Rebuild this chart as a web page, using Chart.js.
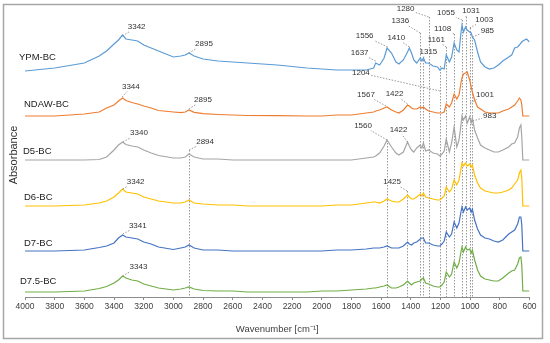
<!DOCTYPE html>
<html>
<head>
<meta charset="utf-8">
<script src="https://cdn.jsdelivr.net/npm/chart.js@4.4.0/dist/chart.umd.min.js"></script>
<style>
  html, body { margin: 0; padding: 0; background: #fff; }
  #wrap { width: 550px; height: 343px; }
</style>
</head>
<body>
<div id="wrap"><canvas id="chart" width="550" height="343"></canvas></div>
<script>
// Волновые числа, общие для всех спектров (cm-1)
const wavenumbers = [
  4000, 3800, 3600, 3500, 3450, 3400, 3370, 3342, 3320, 3280,
  3240, 3200, 3150, 3100, 3000, 2950, 2920, 2895, 2860, 2800,
  2700, 2600, 2500, 2300, 2100, 2000, 1900, 1800, 1700, 1650,
  1637, 1610, 1580, 1560, 1530, 1500, 1480, 1450, 1422, 1410,
  1395, 1380, 1360, 1336, 1325, 1315, 1300, 1280, 1250, 1220,
  1204, 1190, 1175, 1161, 1140, 1125, 1108, 1090, 1075, 1062,
  1055, 1045, 1031, 1020, 1003, 993, 985, 970, 950, 930,
  900, 870, 840, 810, 780, 740, 720, 700, 680, 668,
  658, 652, 645, 620, 600,
]

// Поглощение (усл. ед.) относительно собственной базовой линии спектра
const ypm = [
  0, 3, 8, 15, 20, 27, 31, 36, 32, 31,
  30, 26, 23, 20, 14, 15, 16, 18, 15, 12,
  10, 9, 8, 6, 3, 2, 1, 1, 1, 3,
  8, 6, 13, 23, 18, 9, 7, 11, 19, 23,
  18, 11, 8, 13, 10, 13, 8, 8, 5, 4,
  1, 3, 2, 16, 9, 14, 28, 21, 19, 38,
  46, 39, 44, 41, 39, 38, 34, 31, 19, 9,
  4, 2, 3, 6, 10, 14, 16, 23, 24, 26,
  28, 29, 30, 32, 29,
]
const ndaw = [
  0, 0, 2, 4, 8, 11, 15, 18, 15.5, 13.5,
  12, 10, 8, 5.5, 4, 3.3, 4, 6, 3.7, 2.3,
  1.5, 1, 0.5, 0.3, 0, 0, 1, 1, 3, 4,
  5, 6, 8, 9, 6, 4, 3, 6, 11, 10,
  8, 7, 7, 9, 8, 9, 7, 5, 4, 3,
  3, 3, 4, 12, 9, 13, 22, 17, 21, 33,
  38, 42, 43, 44, 36, 29, 24, 16, 9, 7,
  4, 3, 3, 3, 5, 7, 9, 11, 15, 18,
  16, 11, 0, 0, 0,
]
const d5 = [
  0, 0, 0, 0.5, 3, 10, 15, 18, 15.5, 14,
  13, 10, 7, 4.5, 2, 2, 3, 6, 3, 1,
  1, 0, 0, 0, 0, 0, 0, 0, 2, 3,
  4, 7, 14, 20, 13, 7, 5, 8, 18, 14,
  10, 8, 12, 15, 12, 17, 9, 10, 7, 6,
  4, 6, 9, 21, 8, 17, 33, 13, 20, 35,
  44, 40, 44, 37, 43, 37, 42, 30, 22, 15,
  12, 10, 8, 8, 10, 13, 16, 17, 23, 32,
  35, 23, 0, 0, 0,
]
const d6 = [
  0, 0, 1, 3, 5, 9, 13, 17, 14, 13,
  12, 9, 7, 5, 3, 3, 4, 6, 3, 2,
  1, 1, 0, 0, 0, 0, 1, 1, 3, 4,
  4, 3, 5, 7, 5, 4, 4, 7, 11, 9,
  7, 7, 9, 12, 10, 13, 9, 8, 7, 6,
  6, 8, 10, 19, 14, 17, 26, 21, 26, 37,
  43, 40, 43, 40, 42, 39, 41, 31, 23, 18,
  15, 14, 13, 13, 14, 16, 18, 22, 26, 33,
  36, 28, 0, 0, 0,
]
const d7 = [
  0, 0, 1, 3.5, 5, 8, 13, 16, 14, 13,
  12, 9, 7, 4, 1.5, 3, 4, 6, 3, 1,
  1, 0, 0, 0, 0, 0, 1, 1, 2, 3,
  3, 3, 4, 5, 3, 3, 3, 5, 9, 7,
  6, 8, 9, 12, 13, 13, 8, 8, 6, 5,
  5, 7, 10, 19, 14, 17, 29, 23, 28, 39,
  44, 39, 44, 41, 43, 39, 42, 31, 22, 16,
  13, 12, 10, 9, 11, 17, 19, 21, 27, 34,
  34, 26, 0, 0, 0,
]
const d75 = [
  0, 0, 1, 3.5, 5.5, 9, 12, 16, 14, 12,
  11, 8, 6, 4, 2, 3, 4, 5, 3, 1.5,
  1, 1, 0, 0, 0, 1, 1, 2, 3, 4,
  4, 5, 6, 7, 4, 4, 5, 7, 11, 9,
  7, 9, 10, 11, 13, 14, 9, 8, 6, 5,
  5, 7, 10, 20, 15, 18, 30, 24, 29, 40,
  45, 40, 45, 42, 43, 39, 42, 32, 22, 16,
  13, 12, 11, 11, 14, 19, 21, 22, 28, 34,
  35, 27, 1, 1, 1,
]

const seriesNames = ['YPM-BC', 'NDAW-BC', 'D5-BC', 'D6-BC', 'D7-BC', 'D7.5-BC']
const seriesValues = [ypm, ndaw, d5, d6, d7, d75]
// Смещение каждого спектра по вертикали
const seriesOffsets = [226, 181, 137, 91, 46, 5]
const seriesColors = ['#5B9BD5', '#ED7D31', '#A5A5A5', '#FFC000', '#4472C4', '#70AD47']

// Подписи пиков: спектр, волновое число, уровень точки, смещение текста (px), верх вертикали
const peakNotes = [
  [0, 3342, 261, 14, -9, null],
  [0, 2895, 244, 15, -9, null],
  [0, 1637, 236, -16, -8, null],
  [0, 1556, 250, -23, -11, null],
  [0, 1410, 250, -13, -9, null],
  [0, 1336, 264, -20, -12, 264],
  [0, 1280, 280, -23, -8, 280],
  [0, 1315, 240, 5, -5, 240],
  [0, 1204, 206, -79, -18, 231],
  [0, 1161, 250, -10, -7, 250],
  [0, 1108, 263, -11.5, -5, 263],
  [0, 1055, 277, -16, -7, 277],
  [0, 1031, 280, 5.5, -6, 280],
  [0, 1003, 269, 14.5, -8, 269],
  [0, 985, 260, 15, -6, 260],
  [1, 3344, 200, 8.5, -10, null],
  [1, 2895, 188, 14, -9, null],
  [1, 1567, 191, -20, -11, null],
  [1, 1422, 193, -13, -10, null],
  [1, 1001, 194, 15, -8, null],
  [2, 3340, 155, 16, -9, null],
  [2, 2894, 147, 16, -8, 147],
  [2, 1560, 157, -24, -14, 157],
  [2, 1422, 155, -9, -12, null],
  [2, 983, 176, 17, -5, null],
  [3, 3342, 108, 13, -7, null],
  [3, 1425, 106, -15, -9, 106],
  [4, 3341, 63, 15, -8, null],
  [5, 3343, 21, 16, -9, null],
]

// Положение названий спектров: сдвиг от левого края (px) и уровень
const nameDx = [-6, -1, -2, -1, -1, -5]
const nameLevels = [240, 193, 146, 100, 54, 16]

const datasets = seriesValues.map((values, i) => ({
  label: seriesNames[i],
  data: values.map((v, j) => ({ x: wavenumbers[j], y: v + seriesOffsets[i] })),
  borderColor: seriesColors[i],
  borderWidth: 1.2,
  pointRadius: 0,
  tension: 0,
  fill: false,
}))

const dash = (ctx) => {
  ctx.strokeStyle = '#7f7f7f'
  ctx.lineWidth = 0.8
  ctx.setLineDash([1.5, 1.5])
}

// Вертикальные пунктиры под спектрами
const guideLines = {
  id: 'guideLines',
  beforeDatasetsDraw(chart) {
    const { ctx, scales: { x, y } } = chart
    ctx.save()
    dash(ctx)
    peakNotes.forEach((n) => {
      if (n[5] === null) return
      const px = Math.round(x.getPixelForValue(n[1])) + 0.5
      ctx.beginPath()
      ctx.moveTo(px, y.getPixelForValue(n[5]))
      ctx.lineTo(px, y.getPixelForValue(0))
      ctx.stroke()
    })
    ctx.restore()
  },
}

// Подписи, выноски, рамка и подпись оси Y
const annotations = {
  id: 'annotations',
  afterDraw(chart) {
    const { ctx, chartArea, scales: { x, y } } = chart
    ctx.save()
    ctx.font = '8px "Liberation Sans", Arial, sans-serif'
    ctx.textAlign = 'center'
    ctx.textBaseline = 'middle'
    peakNotes.forEach((n) => {
      const ax = x.getPixelForValue(n[1])
      const ay = y.getPixelForValue(n[2])
      const cx = ax + n[3]
      const cy = ay + n[4]
      const text = String(n[1])
      const hw = ctx.measureText(text).width / 2 + 1
      const hh = 4.5
      const dx = cx - ax
      const dy = cy - ay
      const s = Math.min(dx ? hw / Math.abs(dx) : Infinity, dy ? hh / Math.abs(dy) : Infinity)
      if (s < 1) {
        ctx.save()
        dash(ctx)
        ctx.beginPath()
        ctx.moveTo(ax, ay)
        ctx.lineTo(ax + dx * (1 - s), ay + dy * (1 - s))
        ctx.stroke()
        ctx.restore()
      }
      ctx.fillStyle = '#333'
      ctx.fillText(text, cx, cy)
    })

    ctx.font = '9.5px "Liberation Sans", Arial, sans-serif'
    ctx.textAlign = 'left'
    ctx.fillStyle = '#222'
    seriesNames.forEach((name, i) => {
      ctx.fillText(name, chartArea.left + nameDx[i], y.getPixelForValue(nameLevels[i]))
    })

    ctx.save()
    ctx.translate(14, 155)
    ctx.rotate(-Math.PI / 2)
    ctx.textAlign = 'center'
    ctx.font = '11px "Liberation Sans", Arial, sans-serif'
    ctx.fillStyle = '#333'
    ctx.fillText('Absorbance', 0, 0)
    ctx.restore()

    ctx.strokeStyle = '#a6a6a6'
    ctx.lineWidth = 1.5
    ctx.strokeRect(3.5, 4.5, 539, 334)
    ctx.restore()
  },
}

new Chart(document.getElementById('chart'), {
  type: 'line',
  data: { datasets },
  options: {
    responsive: false,
    animation: false,
    layout: { padding: { left: 25, right: 20.5, top: 5, bottom: 0 } },
    plugins: { legend: { display: false }, tooltip: { enabled: false } },
    scales: {
      x: {
        type: 'linear',
        reverse: true,
        min: 600,
        max: 4000,
        afterFit(scale) {
          scale.height = 46
        },
        ticks: {
          stepSize: 200,
          autoSkip: false,
          maxRotation: 0,
          padding: 2,
          color: '#404040',
          font: { family: '"Liberation Sans", Arial, sans-serif', size: 8.5 },
          callback: (value) => String(value),
        },
        grid: { drawOnChartArea: false, drawTicks: true, tickLength: 3, color: '#8c8c8c' },
        border: { display: true, color: '#8c8c8c' },
        title: {
          display: true,
          text: 'Wavenumber [cm⁻¹]',
          color: '#404040',
          padding: { top: 0, bottom: 8 },
          font: { family: '"Liberation Sans", Arial, sans-serif', size: 9.5 },
        },
      },
      y: { display: false, min: 0, max: 292 },
    },
  },
  plugins: [guideLines, annotations],
})
</script>
</body>
</html>
